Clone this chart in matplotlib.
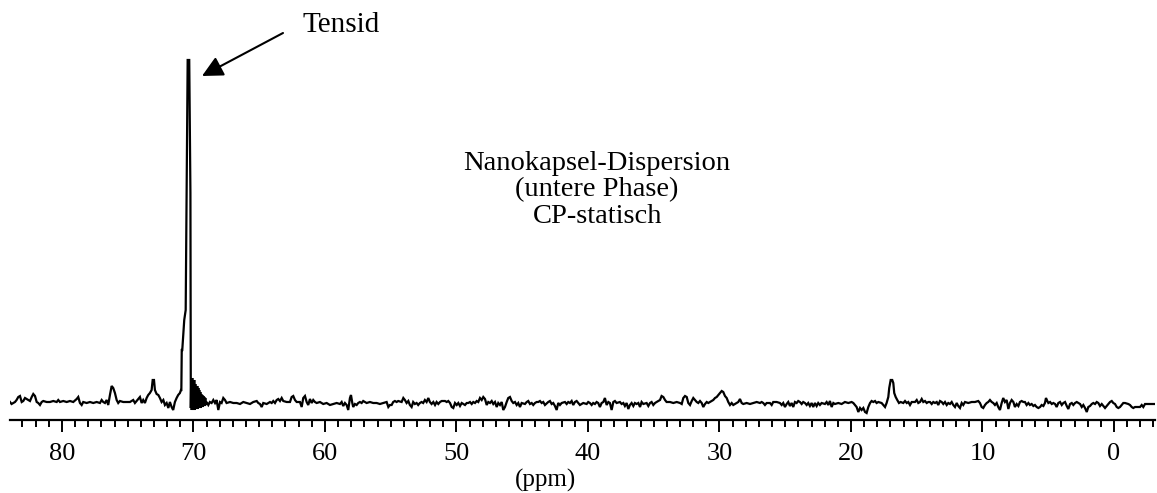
import matplotlib
matplotlib.use("Agg")
import matplotlib.pyplot as plt
from matplotlib.ticker import MultipleLocator

plt.rcParams['font.family'] = ['Liberation Serif', 'DejaVu Serif']

# chemical shift (ppm) and intensity (a.u.)
ppm = [
    83.95, 83.83, 83.70, 83.57, 83.45, 83.32, 83.19, 83.06, 82.94, 82.81, 82.68, 82.43, 82.30, 82.18, 82.05,
    81.92, 81.80, 81.67, 81.54, 81.42, 81.16, 80.91, 80.66, 80.40, 80.28, 80.15, 79.90, 79.64, 79.39, 79.14,
    78.88, 78.76, 78.63, 78.50, 78.38, 78.12, 77.87, 77.62, 77.36, 77.11, 76.98, 76.86, 76.73, 76.60, 76.48,
    76.35, 76.22, 76.10, 75.97, 75.84, 75.72, 75.59, 75.34, 75.08, 74.83, 74.58, 74.45, 74.32, 74.07, 73.94,
    73.82, 73.69, 73.56, 73.44, 73.31, 73.18, 73.10, 73.00, 72.93, 72.80, 72.67, 72.55, 72.42, 72.29, 72.17,
    72.04, 71.91, 71.79, 71.66, 71.54, 71.41, 71.28, 71.16, 71.03, 70.95, 70.92, 70.89, 70.85, 70.70, 70.59,
    70.44, 70.32, 70.23, 70.20,
    70.17, 70.13, 70.09, 70.05, 70.01, 69.98, 69.94, 69.90, 69.86, 69.82, 69.79, 69.75, 69.71, 69.67, 69.63,
    69.60, 69.56, 69.52, 69.48, 69.44, 69.41, 69.37, 69.33, 69.29, 69.25, 69.22, 69.18, 69.14, 69.10, 69.06,
    69.00,
    68.87, 68.75, 68.62, 68.49, 68.36, 68.24, 68.11, 67.98, 67.86, 67.73, 67.60, 67.48, 67.22, 66.97, 66.71,
    66.46, 66.21, 65.95, 65.70, 65.45, 65.19, 65.07, 64.94, 64.81, 64.69, 64.43, 64.18, 64.05, 63.93, 63.80,
    63.67, 63.55, 63.42, 63.29, 63.17, 62.91, 62.66, 62.53, 62.41, 62.28, 62.15, 61.90, 61.77, 61.65, 61.52,
    61.39, 61.27, 61.14, 61.01, 60.89, 60.76, 60.63, 60.38, 60.13, 59.87, 59.62, 59.37, 59.11, 58.86, 58.73,
    58.61, 58.48, 58.35, 58.23, 58.10, 58.02, 57.92, 57.85, 57.72, 57.59, 57.47, 57.34, 57.21, 57.09, 56.83,
    56.58, 56.33, 56.07, 55.82, 55.57, 55.31, 55.18, 55.06,
    54.93, 54.81, 54.68, 54.55, 54.43, 54.17, 54.04, 53.92, 53.79, 53.66, 53.54, 53.41, 53.29, 53.16, 53.03,
    52.91, 52.78, 52.65, 52.53, 52.40, 52.27, 52.14, 52.02, 51.89, 51.76, 51.63, 51.51, 51.38, 51.25, 51.12,
    50.87, 50.74, 50.62, 50.49, 50.36, 50.24, 50.11, 49.98, 49.86, 49.73, 49.60, 49.35, 49.22, 49.10, 48.97,
    48.84, 48.72, 48.59, 48.46, 48.34, 48.21, 48.08, 47.96, 47.83, 47.70, 47.58, 47.45, 47.32, 47.20, 47.07,
    46.94, 46.82, 46.69, 46.56, 46.44, 46.31, 46.18, 46.06, 45.93, 45.80, 45.68, 45.55, 45.42, 45.30, 45.17,
    45.04, 44.79, 44.66, 44.54, 44.41, 44.28, 44.16, 44.03, 43.90, 43.78, 43.65, 43.52, 43.40, 43.27, 43.02,
    42.89, 42.76, 42.64, 42.51, 42.38, 42.26, 42.13, 42.00, 41.75, 41.62, 41.50, 41.37, 41.24, 41.12, 40.99,
    40.86, 40.74, 40.61,
    40.36, 40.10, 39.98, 39.85, 39.72, 39.60, 39.47, 39.34, 39.22, 39.09, 38.96, 38.83, 38.71, 38.58, 38.45,
    38.33, 38.20, 38.07, 37.95, 37.82, 37.57, 37.44, 37.31, 37.19, 37.06, 36.93, 36.81, 36.68, 36.55, 36.43,
    36.30, 36.17, 36.04, 35.92, 35.79, 35.54, 35.41, 35.28, 35.16, 35.03, 34.90, 34.78, 34.52, 34.40, 34.27,
    34.14, 34.02, 33.76, 33.51, 33.25, 33.00, 32.87, 32.75, 32.62, 32.49, 32.37, 32.24, 32.11, 31.99, 31.86,
    31.73, 31.61, 31.48, 31.35, 31.23, 31.10, 30.97, 30.85, 30.72, 30.59, 30.47, 30.34, 30.21, 30.09, 29.96,
    29.83, 29.71, 29.58, 29.45, 29.33, 29.20, 29.07, 28.95, 28.69, 28.57, 28.44, 28.31, 28.19, 27.93, 27.68,
    27.43, 27.17, 26.92, 26.79, 26.67, 26.54, 26.41, 26.16, 26.03, 25.91, 25.65,
    25.40, 25.27, 25.15, 25.02, 24.89, 24.77, 24.64, 24.51, 24.39, 24.26, 24.13, 24.01, 23.88, 23.75, 23.63,
    23.50, 23.37, 23.25, 23.12, 22.99, 22.87, 22.74, 22.61, 22.49, 22.36, 22.23, 21.98, 21.85, 21.72, 21.60,
    21.47, 21.34, 21.22, 20.96, 20.71, 20.46, 20.20, 19.95, 19.82, 19.69, 19.57, 19.44, 19.31, 19.19, 19.06,
    18.93, 18.81, 18.68, 18.55, 18.43, 18.30, 18.17, 18.05, 17.92, 17.67, 17.54, 17.41, 17.29, 17.16, 17.09,
    16.98, 16.86, 16.78, 16.71, 16.60, 16.48, 16.35, 16.22, 16.02, 15.89, 15.76, 15.64, 15.51, 15.38, 15.13,
    15.00, 14.88, 14.75, 14.62, 14.50, 14.37, 14.24, 14.12, 13.99, 13.86, 13.74, 13.61, 13.48, 13.36, 13.23,
    13.10, 12.98, 12.85, 12.72, 12.60, 12.47, 12.34, 12.22, 12.09, 11.96, 11.84, 11.71, 11.58, 11.46,
    11.33, 11.08, 10.82, 10.57, 10.32, 10.19, 10.06, 9.94, 9.81, 9.68, 9.56, 9.43, 9.30, 9.18, 9.05,
    8.92, 8.80, 8.67, 8.54, 8.42, 8.29, 8.16, 8.03, 7.91, 7.78, 7.65, 7.53, 7.40, 7.27, 7.15,
    7.02, 6.89, 6.77, 6.64, 6.51, 6.39, 6.26, 6.13, 6.01, 5.88, 5.75, 5.62, 5.50, 5.37, 5.25,
    5.17, 5.07, 4.99, 4.86, 4.73, 4.61, 4.48, 4.36, 4.23, 4.10, 3.97, 3.85, 3.72, 3.59, 3.47,
    3.34, 3.21, 3.09, 2.96, 2.83, 2.71, 2.58, 2.45, 2.33, 2.20, 2.07, 1.95, 1.82, 1.69, 1.57,
    1.44, 1.31, 1.19, 1.06, 0.93, 0.81, 0.68, 0.55, 0.43, 0.30, 0.17, 0.05, -0.08, -0.21, -0.33,
    -0.46, -0.59, -0.71, -0.84, -1.09, -1.22, -1.35, -1.47, -1.60, -1.73, -1.85, -1.98, -2.11, -2.23, -2.36,
    -2.49, -2.61, -2.87, -3.12,
]

intensity = [
    1, -1, 0, 1, 3, 6, 7, 1, 2, 5, 4, 2, 6, 9, 7,
    1, 0, -2, 1, 2, 1, 1, 2, 1, 3, 1, 2, 1, 2, 1,
    4, 6, 0, -2, 1, 0, 1, 0, 1, 0, 3, 1, 0, 3, -2,
    8, 17, 15, 10, 3, 0, 2, 1, 1, 1, 3, 0, 2, 6, 0,
    3, 0, 5, 8, 10, 13, 23, 23, 13, 9, 8, 5, 1, 3, -2,
    0, -5, 1, -4, -7, 1, 5, 8, 10, 13, 13, 53, 53, 83, 93,
    343, 343, 210, -5,
    23, -7, 25, -7, 21, -7, 23, -7, 19, -6, 17, -6, 17, -6, 15,
    -5, 13, -5, 11, -5, 9, -4, 8, -4, 7, -3, 6, -3, 5, -2,
    1,
    -2, 1, 0, 3, 0, 3, -7, 1, 0, 5, 3, 0, 1, 0, 0,
    -1, 1, 0, -1, 1, 2, 0, -1, -4, 0, -1, 1, 0, 2, 0,
    3, 4, 2, 5, 2, 1, 1, 6, 7, 3, 1, 1, -4, 5, 7,
    1, -2, 4, 0, 3, 1, 0, 1, -1, 0, -2, -1, 0, -1, 1,
    -3, 0, -2, -7, 5, 8, 0, -4, -1, -2, 0, 1, 0, 2, 0,
    1, 0, 0, -1, 0, 1, -4, -2,
    -2, 1, 2, 1, 2, 1, 5, 3, 0, 2, -2, -4, 1, -1, 0,
    -2, 0, 1, 0, 3, 1, 5, 1, -1, 1, -2, 1, -1, 1, 2,
    2, 1, 2, 0, -4, -5, 0, -2, 0, -3, 0, -2, 0, 0, 1,
    -1, 1, 0, 2, 1, 5, 3, 6, 4, -2, 1, 0, 2, -1, 1,
    -4, 0, -2, 1, -7, -4, 1, 5, 6, 2, 0, 1, -2, 0, -4,
    0, -1, 1, 2, -1, 0, -2, 0, 1, 1, 2, 0, 1, -2, 1,
    2, -1, 0, -3, -7, 0, -2, 0, 1, -1, 1, 0, 2, -2, 1,
    2, 0, -2,
    0, -1, 1, 0, -2, 0, -1, 1, 0, -4, 0, 1, 5, -2, 1,
    0, -7, 1, 2, 0, 1, -1, 0, -3, 0, -6, -2, 0, -3, 0,
    -1, 0, -4, 1, -1, 0, -3, 0, 1, -2, 0, 1, 3, 7, 6,
    3, 1, 1, 0, 1, 0, -1, 5, 7, 6, 0, -2, 2, 5, 3,
    1, 0, 2, 0, -4, -1, 1, 0, 1, 2, 3, 5, 6, 8, 10,
    12, 11, 7, 5, 1, -2, 0, -2, 0, 1, 4, 0, -1, 0, -1,
    0, 1, 0, 1, 0, -2, 0, 0, -2, 1, 1,
    0, -2, 0, -4, -1, 1, -3, 0, -4, 1, 0, 2, 1, -1, 1,
    0, -2, 0, -3, 0, -4, 0, -3, 0, -2, 0, -1, 1, -2, 2,
    -4, 0, -1, 0, -1, 1, 0, 1, 0, -2, -4, -9, -5, -7, -5,
    -9, -10, -4, 0, 2, 1, 2, 0, 1, 0, -2, -4, 0, 6, 15,
    23, 23, 20, 10, 6, 3, 0, 1, 0, 2, 0, 1, -2, 1, 1,
    3, 0, 1, 4, 1, 2, 0, 1, 1, -1, 1, 0, 1, -2, 2,
    1, -1, 1, -2, 0, -1, 1, -2, -4, 0, -3, -5, 0, -2,
    1, 0, 1, 1, 2, 0, -4, -5, -2, 0, 1, 3, 1, 0, -2,
    0, -4, -7, 0, 5, 1, 3, -6, 0, 3, 1, -4, -1, -3, 1,
    2, 1, 1, -2, 0, -2, -1, -3, -2, -4, -5, -4, -2, -3, 0,
    5, 2, 0, 1, -1, 0, -1, -4, 0, 1, -2, 0, 1, -3, -6,
    -1, 0, -2, 0, 1, 0, -1, -4, -2, -5, -9, -4, -3, -1, 0,
    -1, 1, 0, -3, -1, -3, -5, -3, -1, 1, 2, 0, -1, -4, -5,
    -4, -2, 0, 0, -1, -2, -4, -5, -4, -4, -4, -4, -2, -4, -1,
    -1, -1, -1, -1,
]

major_ticks = [80, 70, 60, 50, 40, 30, 20, 10, 0]

W, H = 1157, 493
fig = plt.figure(figsize=(W / 100, H / 100), dpi=100)
ax = fig.add_axes([10 / W, (H - 420) / H, 1145 / W, 420 / H])

ax.plot(ppm, intensity, color='black', lw=1.6, solid_joinstyle='miter')

ax.set_xlim(83.95, -3.12)
ax.set_ylim(-17, 403)

for s in ['top', 'left', 'right']:
    ax.spines[s].set_visible(False)
ax.spines['bottom'].set_linewidth(1.6)
ax.set_yticks([])
ax.set_xticks(major_ticks)
ax.set_xticklabels([str(t) for t in major_ticks])
ax.xaxis.set_minor_locator(MultipleLocator(1))
ax.tick_params(axis='x', which='major', direction='out', length=8.5, width=1.4, pad=8, labelsize=19)
ax.tick_params(axis='x', which='minor', direction='out', length=5, width=1.4)

ax.set_xlabel('(ppm)', fontsize=18)
ax.xaxis.set_label_coords((546 - 10) / 1145, (420 - 469) / 420)

ax.text(58.8, 378, 'Tensid', fontsize=21, ha='center', va='center')
ax.annotate('', xy=(69.35, 327), xytext=(63.19, 370),
            arrowprops=dict(arrowstyle='-|>,head_length=0.9,head_width=0.45', color='black',
                            lw=1.5, mutation_scale=14, shrinkA=0, shrinkB=0))

ax.text(39.3, 213, 'Nanokapsel-Dispersion\n(untere Phase)\nCP-statisch', fontsize=20.5,
        ha='center', va='center', linespacing=1.08)

fig.savefig('out.png', dpi=100)
